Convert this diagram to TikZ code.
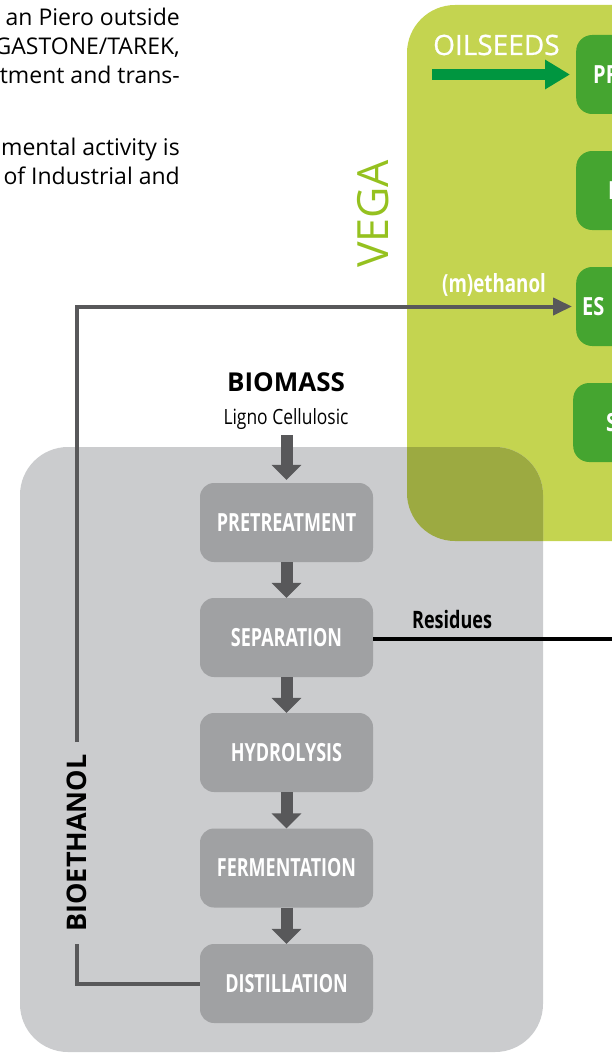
\documentclass[tikz,border=0pt]{standalone}
\usepackage{fontspec}
\setmainfont{Open Sans}
\newfontfamily\cond[FakeStretch=0.72]{Open Sans}
\newfontfamily\condg[FakeStretch=0.8]{Open Sans}
\newfontfamily\condm[FakeStretch=0.75]{Open Sans}
\newfontfamily\condr[FakeStretch=0.83]{Open Sans}
\newfontfamily\semi[FakeBold=0.7]{Open Sans}
\usetikzlibrary{arrows.meta}
\definecolor{lime}{RGB}{196,212,80}
\definecolor{olive}{RGB}{156,170,65}
\definecolor{panel}{RGB}{203,204,206}
\definecolor{boxgray}{RGB}{160,161,163}
\definecolor{dark}{RGB}{88,88,90}
\definecolor{leaf}{RGB}{69,165,48}
\definecolor{arrowgreen}{RGB}{0,150,64}
\definecolor{vega}{RGB}{149,193,31}
\tikzset{
  pbox/.style={fill=boxgray, rounded corners=14pt, minimum width=173pt, minimum height=79pt,
    inner sep=0pt, text=white, font=\cond\bfseries\fontsize{25}{29}\selectfont},
  gbox/.style={fill=leaf, rounded corners=16pt, minimum width=150pt, minimum height=79pt,
    inner sep=0pt, anchor=west},
  gtext/.style={text=white, inner sep=0pt, anchor=west, font=\condg\bfseries\fontsize{25}{29}\selectfont},
  bodytext/.style={inner sep=0pt, anchor=base east, font=\fontsize{23}{29}\selectfont},
  blockarrow/.style={draw=dark, line width=12pt, -{Triangle[width=29pt,length=15pt]}},
  greenarrow/.style={draw=arrowgreen, line width=11pt, -{Triangle[width=28pt,length=25pt]}},
  flowline/.style={draw=dark, line width=4pt},
}
\begin{document}
\begin{tikzpicture}[x=1pt,y=-1pt]
\useasboundingbox (0,0) rectangle (612,1054);
\clip (0,0) rectangle (612,1054);
% backgrounds
\fill[lime, rounded corners=48pt] (407,5) rectangle (720,541);
\fill[panel, rounded corners=48pt] (20,447) rectangle (543,1052);
\begin{scope}
  \clip[rounded corners=48pt] (407,5) rectangle (720,541);
  \fill[olive, rounded corners=48pt] (20,447) rectangle (543,1052);
\end{scope}
% body text
\node[bodytext] (t1) at (180,26) {an Piero outside};
\node[bodytext] (t2) at (180,55) {GASTONE/TAREK,};
\node[bodytext] (t3) at (180,84) {tment and trans-};
\node[bodytext] (t4) at (180,155) {mental activity is};
\node[bodytext] (t5) at (180,184) {of Industrial and};
% VEGA side
\node[rotate=90, anchor=base west, inner sep=0pt, text=vega, font=\fontsize{43}{50}\selectfont] (vega) at (388,268) {VEGA};
\node[anchor=base west, inner sep=0pt, text=white, font=\semi\fontsize{28}{32}\selectfont] (oil) at (433,55) {OILSEEDS};
\node[anchor=base west, inner sep=0pt, text=white, font=\condm\bfseries\fontsize{25}{29}\selectfont] (meth) at (442,292) {(m)ethanol};
\node[gbox] (pr) at (576,74.5) {};
\node[gbox] (g2) at (576,190.5) {};
\node[gbox] (es) at (576,306.5) {};
\node[gbox] (g4) at (573,422.5) {};
\node[gtext] (prt) at (593,75) {PR};
\node[gtext] (g2t) at (608,191) {I};
\node[gtext] (est) at (582,307) {ES};
\node[gtext] (g4t) at (606,423) {S};
\coordinate (oilstart) at (432,74.5);
\draw[greenarrow, shorten >=6pt] (oilstart) -- (pr.west);
% biomass chain
\node[anchor=base, inner sep=0pt, font=\bfseries\fontsize{26}{30}\selectfont] (bio) at (286,391) {BIOMASS};
\node[anchor=base, inner sep=0pt, font=\condr\fontsize{21}{25}\selectfont] (ligno) at (286,424) {Ligno Cellulosic};
\node[pbox] (pre) at (286.5,522.5) {PRETREATMENT};
\node[pbox] (sep) at (286.5,637.5) {SEPARATION};
\node[pbox] (hyd) at (286.5,752.5) {HYDROLYSIS};
\node[pbox] (fer) at (286.5,868) {FERMENTATION};
\node[pbox] (dist) at (286.5,983.5) {DISTILLATION};
\draw[blockarrow, shorten <=6pt, shorten >=3pt] (ligno.south -| pre.north) -- (pre.north);
\draw[blockarrow] (pre.south) -- (sep.north);
\draw[blockarrow] (sep.south) -- (hyd.north);
\draw[blockarrow] (hyd.south) -- (fer.north);
\draw[blockarrow] (fer.south) -- (dist.north);
% residues
\node[anchor=base west, inner sep=0pt, font=\condm\bfseries\fontsize{24}{28}\selectfont] (res) at (412,628) {Residues};
\coordinate (resend) at (620,639);
\draw[black, line width=3.5pt] (sep.east |- resend) -- (resend);
% bioethanol loop
\node[rotate=90, inner xsep=12pt, inner ysep=0pt, font=\bfseries\fontsize{27}{31}\selectfont] (beth) at (77,843) {BIOETHANOL};
\draw[flowline] (dist.west) -| (beth.west);
\draw[flowline, -{Triangle[width=17pt,length=19pt]}, shorten >=4pt] (beth.east) |- (es.west);
\end{tikzpicture}
\end{document}
